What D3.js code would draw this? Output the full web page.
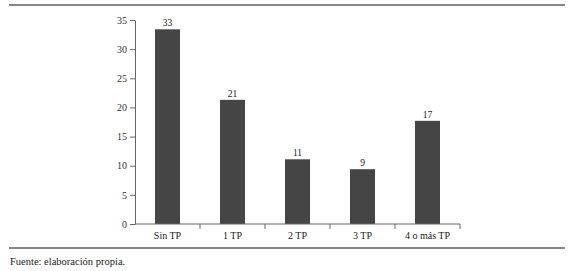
<!DOCTYPE html>
<html><head><meta charset="utf-8">
<script src="https://cdn.jsdelivr.net/npm/d3@7"></script>
<style>body{margin:0;background:#fff;}svg{display:block;}</style>
</head><body>
<script>
const categories = ["Sin TP","1 TP","2 TP","3 TP","4 o más TP"];
const barValues = [33.4,21.3,11.1,9.4,17.7];
const valueLabels = ["33","21","11","9","17"];
const yTicks = [0,5,10,15,20,25,30,35];
const source = "Fuente: elaboración propia.";

const W=575,H=271;
const svg=d3.select("body").append("svg").attr("width",W).attr("height",H);
const font="'Liberation Serif'";
const x=d3.scaleBand().domain(categories).range([135,460]).paddingInner(0.615).paddingOuter(0.3075);
const y=d3.scaleLinear().domain([0,35]).range([224,20]);

svg.append("line").attr("x1",9).attr("x2",565).attr("y1",5).attr("y2",5).attr("stroke","#111").attr("stroke-width",1.2);
svg.append("line").attr("x1",9).attr("x2",565).attr("y1",248).attr("y2",248).attr("stroke","#111").attr("stroke-width",1.2);

const ya=svg.append("g").attr("transform","translate(135,0)")
 .call(d3.axisLeft(y).tickValues(yTicks).tickSize(5).tickPadding(3).tickSizeOuter(0));
ya.attr("font-family",null);
ya.select(".domain").attr("stroke","#666");
ya.selectAll(".tick line").attr("stroke","#666");
ya.selectAll("text").style("font-family",font).attr("font-size",10).attr("fill","#333");

svg.selectAll("rect.bar").data(categories).join("rect").attr("class","bar")
 .attr("x",d=>x(d)).attr("width",x.bandwidth())
 .attr("y",(d,i)=>y(barValues[i])).attr("height",(d,i)=>y(0)-y(barValues[i]))
 .attr("fill","#454545");

svg.selectAll("text.val").data(categories).join("text").attr("class","val")
 .attr("x",d=>x(d)+x.bandwidth()/2).attr("y",(d,i)=>y(barValues[i])-3)
 .attr("text-anchor","middle").style("font-family",font).attr("font-size",9.5).attr("fill","#222")
 .text((d,i)=>valueLabels[i]);

const step=x.step();
svg.append("line").attr("x1",135).attr("x2",460).attr("y1",224).attr("y2",224).attr("stroke","#666");
svg.selectAll("line.xt").data(d3.range(1,categories.length+1)).join("line").attr("class","xt")
 .attr("x1",i=>135+i*step).attr("x2",i=>135+i*step).attr("y1",224).attr("y2",229).attr("stroke","#666");
svg.selectAll("text.cat").data(categories).join("text").attr("class","cat")
 .attr("x",d=>x(d)+x.bandwidth()/2).attr("y",239).attr("text-anchor","middle")
 .style("font-family",font).attr("font-size",10).attr("fill","#222").text(d=>d);

svg.append("text").attr("x",10).attr("y",265).style("font-family",font).attr("font-size",10.5).attr("fill","#222").text(source);
</script>
</body></html>
